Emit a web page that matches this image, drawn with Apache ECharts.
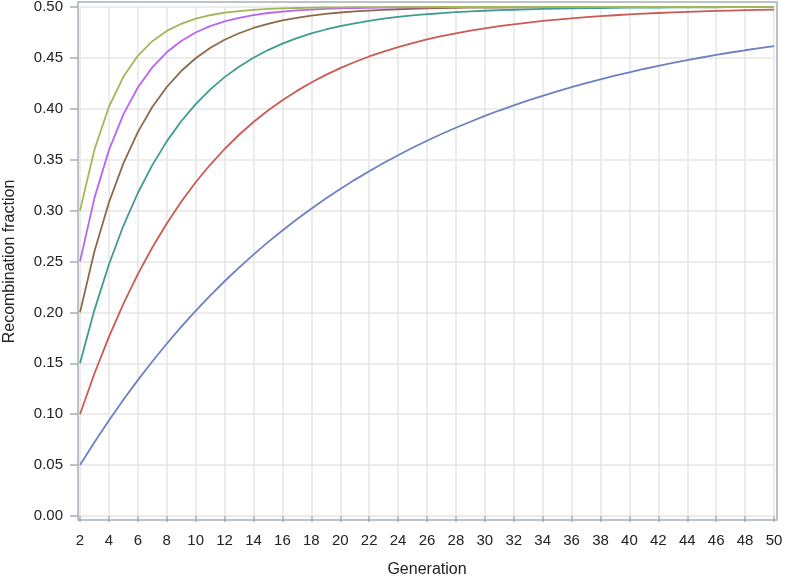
<!DOCTYPE html>
<html>
<head>
<meta charset="utf-8">
<script src="https://cdn.jsdelivr.net/npm/echarts@6/dist/echarts.min.js"></script>
<style>
  html, body { margin: 0; padding: 0; background: #fff; }
  #main { width: 786px; height: 577px; }
</style>
</head>
<body>
<div id="main"></div>
<script>
  // generations 2..50
  const generations = []
  for (let g = 2; g <= 50; g++) generations.push(g)

  // recombination fraction, one value per generation
  const r05 = [0.0500, 0.0725, 0.0939, 0.1142, 0.1335, 0.1518, 0.1692, 0.1858, 0.2015, 0.2164,
    0.2306, 0.2440, 0.2568, 0.2690, 0.2805, 0.2915, 0.3019, 0.3118, 0.3213, 0.3302,
    0.3387, 0.3467, 0.3544, 0.3617, 0.3686, 0.3752, 0.3814, 0.3873, 0.3930, 0.3983,
    0.4034, 0.4082, 0.4128, 0.4172, 0.4213, 0.4253, 0.4290, 0.4325, 0.4359, 0.4391,
    0.4422, 0.4451, 0.4478, 0.4504, 0.4529, 0.4553, 0.4575, 0.4596, 0.4616]
  const r10 = [0.1000, 0.1400, 0.1760, 0.2084, 0.2376, 0.2638, 0.2874, 0.3087, 0.3278, 0.3450,
    0.3605, 0.3745, 0.3870, 0.3983, 0.4085, 0.4176, 0.4259, 0.4333, 0.4400, 0.4460,
    0.4514, 0.4562, 0.4606, 0.4645, 0.4681, 0.4713, 0.4742, 0.4767, 0.4791, 0.4812,
    0.4830, 0.4847, 0.4863, 0.4876, 0.4889, 0.4900, 0.4910, 0.4919, 0.4927, 0.4934,
    0.4941, 0.4947, 0.4952, 0.4957, 0.4961, 0.4965, 0.4969, 0.4972, 0.4975]
  const r15 = [0.1500, 0.2025, 0.2471, 0.2851, 0.3173, 0.3447, 0.3680, 0.3878, 0.4046, 0.4189,
    0.4311, 0.4414, 0.4502, 0.4577, 0.4640, 0.4694, 0.4740, 0.4779, 0.4812, 0.4840,
    0.4864, 0.4885, 0.4902, 0.4917, 0.4929, 0.4940, 0.4949, 0.4957, 0.4963, 0.4969,
    0.4973, 0.4977, 0.4981, 0.4984, 0.4986, 0.4988, 0.4990, 0.4991, 0.4993, 0.4994,
    0.4995, 0.4996, 0.4996, 0.4997, 0.4997, 0.4998, 0.4998, 0.4998, 0.4999]
  const r20 = [0.2000, 0.2600, 0.3080, 0.3464, 0.3771, 0.4017, 0.4214, 0.4371, 0.4497, 0.4597,
    0.4678, 0.4742, 0.4794, 0.4835, 0.4868, 0.4894, 0.4916, 0.4932, 0.4946, 0.4957,
    0.4965, 0.4972, 0.4978, 0.4982, 0.4986, 0.4989, 0.4991, 0.4993, 0.4994, 0.4995,
    0.4996, 0.4997, 0.4998, 0.4998, 0.4999, 0.4999, 0.4999, 0.4999, 0.4999, 0.5000,
    0.5000, 0.5000, 0.5000, 0.5000, 0.5000, 0.5000, 0.5000, 0.5000, 0.5000]
  const r25 = [0.2500, 0.3125, 0.3594, 0.3945, 0.4209, 0.4407, 0.4555, 0.4666, 0.4750, 0.4812,
    0.4859, 0.4894, 0.4921, 0.4941, 0.4955, 0.4967, 0.4975, 0.4981, 0.4986, 0.4989,
    0.4992, 0.4994, 0.4996, 0.4997, 0.4997, 0.4998, 0.4999, 0.4999, 0.4999, 0.4999,
    0.5000, 0.5000, 0.5000, 0.5000, 0.5000, 0.5000, 0.5000, 0.5000, 0.5000, 0.5000,
    0.5000, 0.5000, 0.5000, 0.5000, 0.5000, 0.5000, 0.5000, 0.5000, 0.5000]
  const r30 = [0.3000, 0.3600, 0.4020, 0.4314, 0.4520, 0.4664, 0.4765, 0.4835, 0.4885, 0.4919,
    0.4944, 0.4960, 0.4972, 0.4981, 0.4986, 0.4990, 0.4993, 0.4995, 0.4997, 0.4998,
    0.4998, 0.4999, 0.4999, 0.4999, 0.5000, 0.5000, 0.5000, 0.5000, 0.5000, 0.5000,
    0.5000, 0.5000, 0.5000, 0.5000, 0.5000, 0.5000, 0.5000, 0.5000, 0.5000, 0.5000,
    0.5000, 0.5000, 0.5000, 0.5000, 0.5000, 0.5000, 0.5000, 0.5000, 0.5000]

  const curves = [r05, r10, r15, r20, r25, r30]
  const colors = ['#6f80c2', '#c95b52', '#3f9c90', '#8c6a47', '#b866f2', '#a4b55a']

  const font = 'Arial, "Liberation Sans", sans-serif'
  const frameColor = '#a7afb8'
  const gridColor = '#e6e6e6'
  const textColor = '#222'

  const myChart = echarts.init(document.getElementById('main'))

  const series = curves.map((vals, i) => ({
    type: 'line',
    xAxisIndex: 1,
    yAxisIndex: 1,
    data: generations.map((g, j) => [g, vals[j]]),
    showSymbol: false,
    lineStyle: { color: colors[i], width: 1.8 },
    itemStyle: { color: colors[i] },
    z: 3 + i
  }))

  myChart.setOption({
    animation: false,
    grid: [
      // outer frame
      { left: 78, right: 9, top: 2, bottom: 57, show: true, borderColor: frameColor, borderWidth: 1.5,
        backgroundColor: 'transparent', z: 5, outerBoundsMode: 'none', containLabel: false },
      // data area
      { left: 80, right: 12, top: 7, bottom: 61, outerBoundsMode: 'none', containLabel: false }
    ],
    xAxis: [
      { gridIndex: 0, type: 'value', show: false, min: 0, max: 1 },
      {
        gridIndex: 1,
        type: 'value',
        min: 2,
        max: 50,
        interval: 2,
        offset: 4,
        name: 'Generation',
        nameLocation: 'middle',
        nameGap: 42,
        nameTextStyle: { fontFamily: font, fontSize: 16, color: textColor },
        axisLine: { show: false },
        axisTick: { show: true, length: 6, lineStyle: { color: frameColor, width: 1.5 } },
        axisLabel: { fontFamily: font, fontSize: 15, color: textColor, margin: 13 },
        splitLine: { show: true, lineStyle: { color: gridColor, width: 1.5 } }
      }
    ],
    yAxis: [
      { gridIndex: 0, type: 'value', show: false, min: 0, max: 1 },
      {
        gridIndex: 1,
        type: 'value',
        min: 0,
        max: 0.5,
        interval: 0.05,
        offset: 2,
        name: 'Recombination fraction',
        nameLocation: 'middle',
        nameRotate: 90,
        nameGap: 60,
        nameTextStyle: { fontFamily: font, fontSize: 16, color: textColor },
        axisLine: { show: false },
        axisTick: { show: true, length: 8, lineStyle: { color: frameColor, width: 1.5 } },
        axisLabel: {
          fontFamily: font, fontSize: 15, color: textColor, margin: 15,
          formatter: v => v.toFixed(2)
        },
        splitLine: { show: true, lineStyle: { color: gridColor, width: 1.5 } }
      }
    ],
    series: series
  })
</script>
</body>
</html>
